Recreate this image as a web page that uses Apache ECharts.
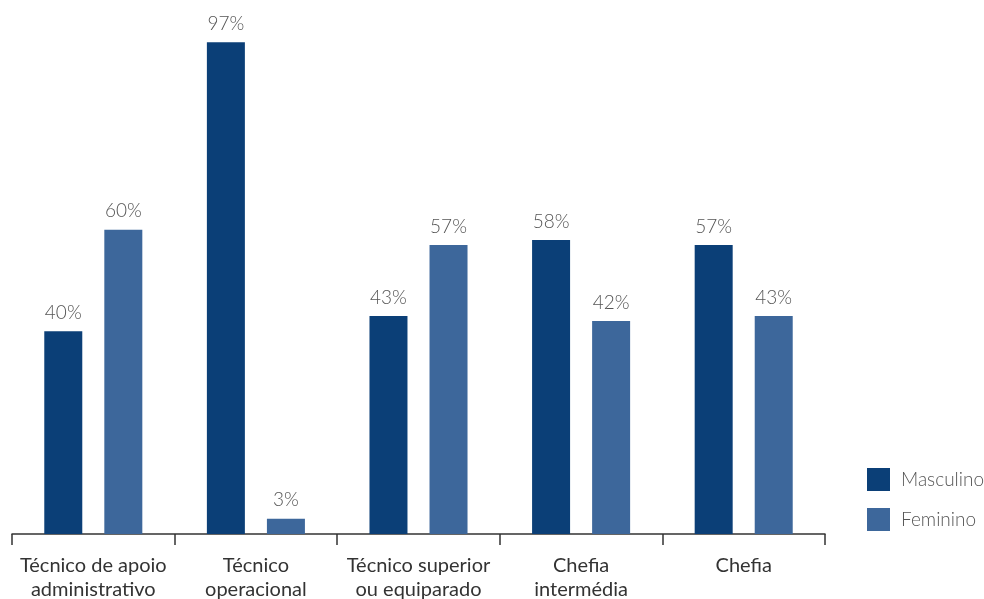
<!DOCTYPE html>
<html><head><meta charset="utf-8">
<script src="https://cdn.jsdelivr.net/npm/echarts@6/dist/echarts.min.js"></script>
<style>html,body{margin:0;padding:0;background:#fff;overflow:hidden}#c{width:984px;height:599px}</style>
</head><body><div id="c"></div>
<script>
const categories = ['Técnico de apoio\nadministrativo', 'Técnico\noperacional', 'Técnico superior\nou equiparado', 'Chefia\nintermédia', 'Chefia'];
const masculino = [40, 97, 43, 58, 57];
const feminino = [60, 3, 57, 42, 43];
const seriesNames = ['Masculino', 'Feminino'];

const chart = echarts.init(document.getElementById('c'), null, {renderer: 'canvas'});
const labelStyle = {show: true, position: 'top', distance: 9, formatter: '{c}%', color: '#555', fontSize: 19, fontFamily: 'Lato', fontWeight: 300};
chart.setOption({
  animation: false,
  textStyle: {fontFamily: 'Lato'},
  grid: {left: 12, right: 159, top: 27, bottom: 65, containLabel: false, outerBoundsMode: 'none'},
  legend: {
    orient: 'vertical', left: 862, top: 463, itemWidth: 23, itemHeight: 23, itemGap: 17,
    icon: 'rect',
    textStyle: {color: '#555', fontSize: 19, fontFamily: 'Lato', fontWeight: 300, padding: [0, 0, 0, 6]},
    data: seriesNames
  },
  xAxis: {
    type: 'category', data: categories,
    axisLine: {lineStyle: {color: '#333', width: 1.5}},
    axisTick: {show: true, length: 11, lineStyle: {color: '#333', width: 1.5}},
    axisLabel: {color: '#333', fontSize: 20, fontFamily: 'Lato', lineHeight: 24, margin: 20, interval: 0}
  },
  yAxis: {type: 'value', min: 0, max: 100, show: false, splitLine: {show: false}},
  series: [
    {name: seriesNames[0], type: 'bar', data: masculino, barWidth: 38, barGap: '58%',
     itemStyle: {color: '#0b3f77', decal: {symbol: 'none', dashArrayX: [1, 0], dashArrayY: [2, 18], rotation: 1.2, color: 'rgba(255,255,255,0.06)'}},
     label: labelStyle},
    {name: seriesNames[1], type: 'bar', data: feminino, barWidth: 38,
     itemStyle: {color: '#3d679b', decal: {symbol: 'none', dashArrayX: [1, 0], dashArrayY: [2, 18], rotation: -0.9, color: 'rgba(255,255,255,0.07)'}},
     label: labelStyle}
  ]
});
</script></body></html>
